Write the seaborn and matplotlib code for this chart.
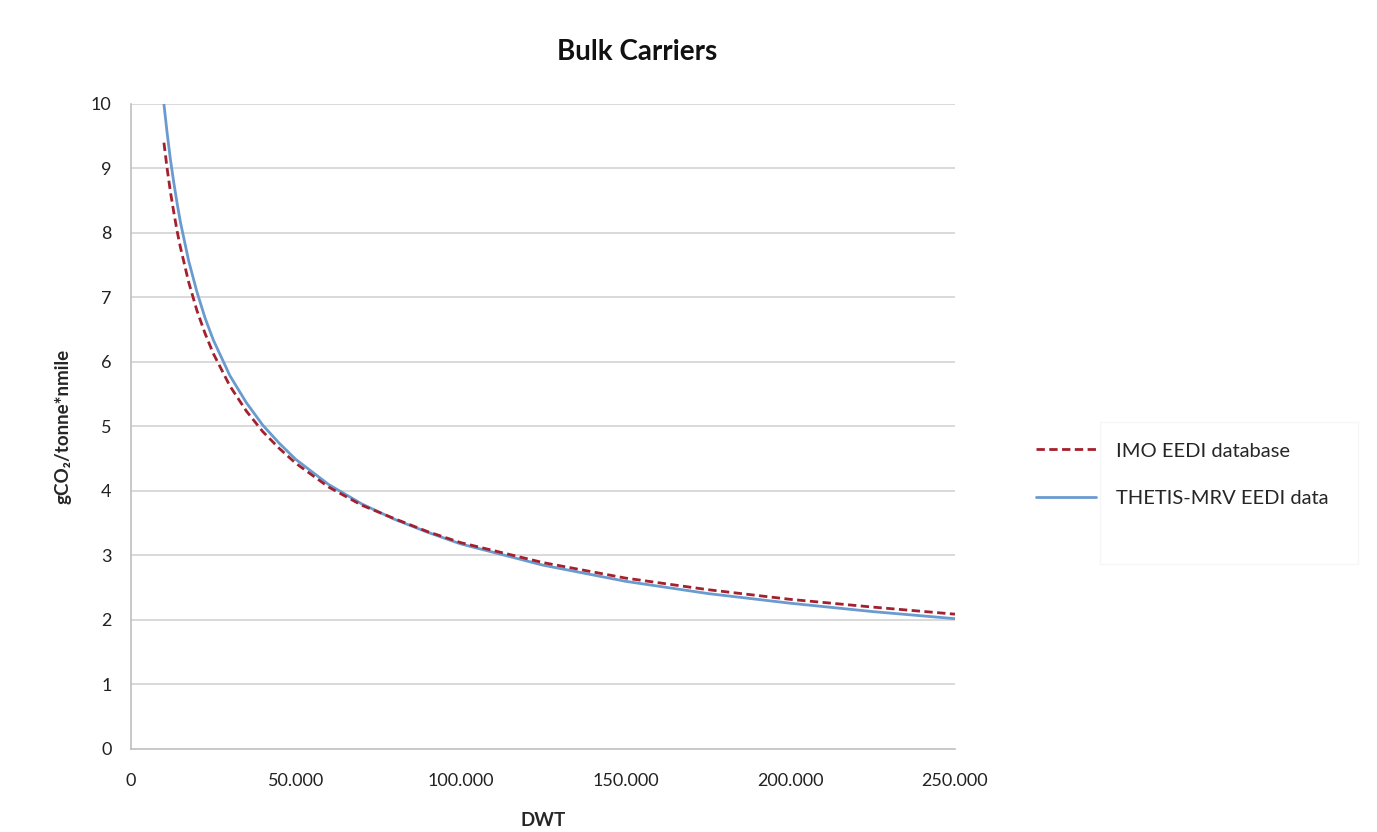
import numpy as np
import pandas as pd
import matplotlib
matplotlib.use("Agg")
import matplotlib.pyplot as plt
import seaborn as sns
from matplotlib.ticker import FuncFormatter
from matplotlib.patches import Rectangle

# Deadweight tonnage sample points
dwt = [10000, 11000, 12000, 13000, 14000, 15000, 17500, 20000, 22500, 25000,
       30000, 35000, 40000, 45000, 50000, 60000, 70000, 80000, 90000, 100000,
       125000, 150000, 175000, 200000, 225000, 250000]

# gCO2/tonne*nmile reference lines
imo_eedi = [9.40, 8.99, 8.63, 8.32, 8.03, 7.78, 7.24, 6.80, 6.44, 6.13,
            5.63, 5.24, 4.92, 4.66, 4.43, 4.06, 3.78, 3.57, 3.37, 3.20,
            2.89, 2.65, 2.47, 2.32, 2.20, 2.09]
thetis_eedi = [10.00, 9.54, 9.13, 8.78, 8.46, 8.17, 7.57, 7.09, 6.68, 6.34,
               5.79, 5.37, 5.02, 4.74, 4.49, 4.10, 3.80, 3.56, 3.36, 3.18,
               2.85, 2.60, 2.41, 2.26, 2.13, 2.02]

series_names = ["IMO EEDI database", "THETIS-MRV EEDI data"]
x_ticks = [0, 50000, 100000, 150000, 200000, 250000]
y_ticks = list(range(0, 11))

sns.set_theme(style="white")
plt.rcParams["font.family"] = ["Lato", "DejaVu Sans"]

fig = plt.figure(figsize=(13.77, 8.32), dpi=100)
ax = fig.add_axes([0.0951, 0.0998, 0.5984, 0.7752])

df = pd.DataFrame({"DWT": dwt, "imo": imo_eedi, "thetis": thetis_eedi})

grid_col = "#D9D9D9"
ax.set_ylim(0, 10)
ax.set_xlim(0, 250000)
ax.set_yticks(y_ticks)
ax.set_xticks(x_ticks)
for v in y_ticks[1:]:
    ax.axhline(v, color=grid_col, lw=1.4, zorder=0)

sns.lineplot(data=df, x="DWT", y="imo", ax=ax, color="#A3202E", lw=2.0,
             label=series_names[0], zorder=3)
ax.lines[-1].set_dashes([3.0, 1.6])
sns.lineplot(data=df, x="DWT", y="thetis", ax=ax, color="#6A9BCF", lw=2.0,
             label=series_names[1], zorder=2)

ax.xaxis.set_major_formatter(FuncFormatter(lambda v, p: f"{int(v):,}".replace(",", ".")))

for s in ["top", "right"]:
    ax.spines[s].set_visible(False)
for s in ["left", "bottom"]:
    ax.spines[s].set_color("#BFBFBF")
    ax.spines[s].set_linewidth(1.2)

ax.tick_params(axis="both", which="major", direction="out", length=6, width=1.0,
               color="#BFBFBF", labelsize=13, labelcolor="#222222", pad=8)
ax.tick_params(axis="x", pad=11)

ax.set_xlabel("DWT", fontsize=13.5, fontweight="bold", labelpad=17)
ax.set_ylabel("gCO₂/tonne*nmile", fontsize=13.5, fontweight="bold", labelpad=14)

fig.text(0.4626, 0.937, "Bulk Carriers", ha="center", va="center",
         fontsize=20, fontweight="bold", color="#111111")

# very faint text-box outline behind the legend labels
fig.patches.append(Rectangle((1100 / 1377, 1 - 564 / 832), 258 / 1377, 142 / 832,
                             transform=fig.transFigure, fill=False,
                             edgecolor="#F6F6F6", lw=1.0))

handles, labels = ax.get_legend_handles_labels()
ax.legend_.remove()
fig.legend(handles, labels, loc="upper left", bbox_to_anchor=(0.739, 0.490),
           frameon=False, fontsize=14.5, handlelength=3.0, handletextpad=1.0,
           labelspacing=1.5)

fig.savefig("out.png", dpi=100)
